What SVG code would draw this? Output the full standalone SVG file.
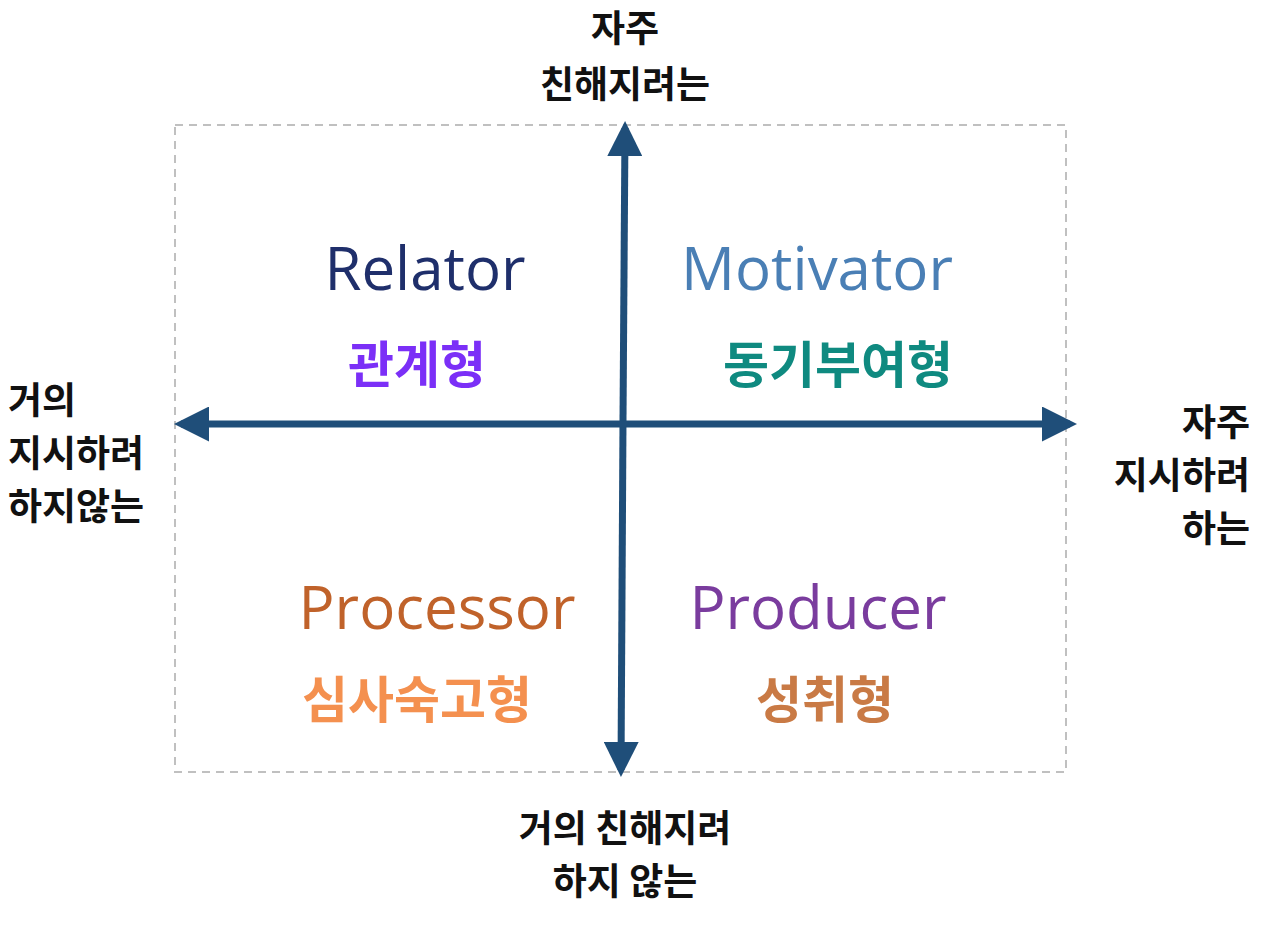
<svg xmlns="http://www.w3.org/2000/svg" width="1269" height="930" viewBox="0 0 1269 930">
<style>
.ax{font-family:"Noto Sans CJK KR","Noto Sans",sans-serif;font-weight:bold;font-size:37px;fill:#111}
.en{font-family:"Open Sans","Noto Sans",sans-serif;font-size:60px}
.ko{font-family:"Noto Sans CJK KR",sans-serif;font-weight:bold;font-size:50px}
</style>
<defs>
<marker id="ah" markerWidth="5" markerHeight="5" refX="4" refY="2.5" orient="auto" markerUnits="strokeWidth"><path d="M0,0 L5,2.5 L0,5 z" fill="#1f4e79"/></marker>
</defs>
<rect width="1269" height="930" fill="#fff"/>
<rect x="175" y="125" width="891" height="647" fill="none" stroke="#c0c0c0" stroke-width="2" stroke-dasharray="8,6"/>
<g id="connectors" stroke="#1f4e79" stroke-width="7" marker-end="url(#ah)">
<line x1="623" y1="420" x2="625" y2="128"/>
<line x1="623" y1="420" x2="621" y2="770"/>
<line x1="623" y1="424" x2="181" y2="424"/>
<line x1="623" y1="424" x2="1070" y2="424"/>
</g>
<g id="top" class="ax" text-anchor="middle"><text x="625" y="42">자주</text><text x="625" y="98">친해지려는</text></g>
<g id="bottom" class="ax" text-anchor="middle"><text x="625" y="842">거의 친해지려</text><text x="625" y="895">하지 않는</text></g>
<g id="left" class="ax"><text x="8" y="414">거의</text><text x="8" y="467">지시하려</text><text x="8" y="520">하지않는</text></g>
<g id="right" class="ax" text-anchor="end"><text x="1250" y="436">자주</text><text x="1250" y="489">지시하려</text><text x="1250" y="542">하는</text></g>
<g id="relator"><text class="en" x="425" y="290" text-anchor="middle" fill="#1f2f6b">Relator</text><text class="ko" x="417" y="383" text-anchor="middle" fill="#7b2ff7">관계형</text></g>
<g id="motivator"><text class="en" x="817" y="290" text-anchor="middle" fill="#4a7fb5">Motivator</text><text class="ko" x="838" y="383" text-anchor="middle" fill="#0f8a80">동기부여형</text></g>
<g id="processor"><text class="en" x="437" y="629" text-anchor="middle" fill="#c0622a">Processor</text><text class="ko" x="417" y="718" text-anchor="middle" fill="#f4904f">심사숙고형</text></g>
<g id="producer"><text class="en" x="818" y="629" text-anchor="middle" fill="#7a3c9e">Producer</text><text class="ko" x="825" y="718" text-anchor="middle" fill="#c97a45">성취형</text></g>
</svg>
